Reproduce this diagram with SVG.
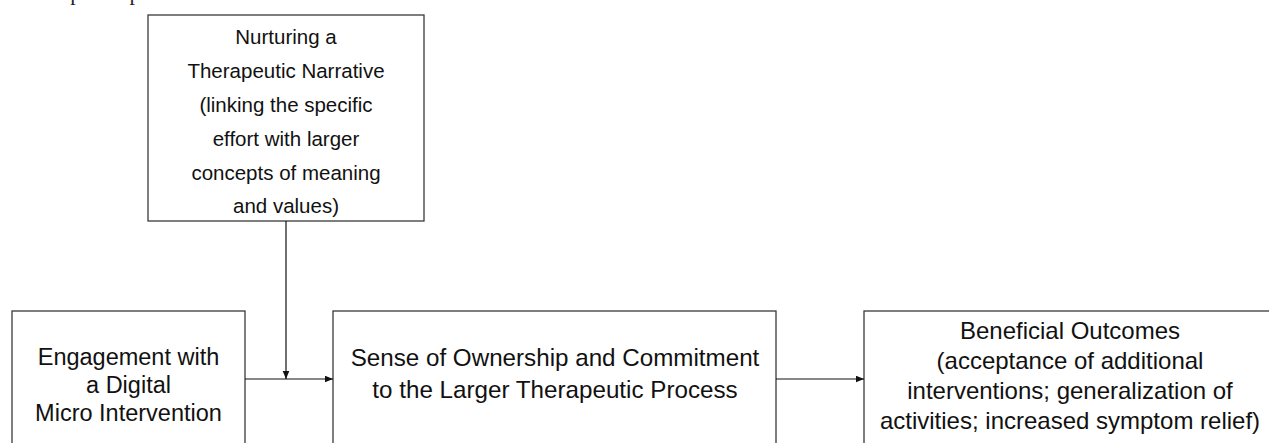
<svg xmlns="http://www.w3.org/2000/svg" width="1269" height="443" viewBox="0 0 1269 443">
<style>
.box{fill:#fff;stroke:#3a3a3a;stroke-width:1.3}
.t{font-family:"Liberation Sans",Arial,sans-serif;fill:#111;text-anchor:middle}
.cap{font-family:"Liberation Serif","Times New Roman",serif;fill:#222;font-size:22px}
.conn{stroke:#111;stroke-width:1.2;fill:none}
</style>
<defs>
<marker id="ah" markerUnits="userSpaceOnUse" markerWidth="9" markerHeight="8" refX="8.5" refY="3.5" orient="auto">
<path d="M0,0 L8.5,3.5 L0,7 z" fill="#111"/>
</marker>
</defs>
<rect width="1269" height="443" fill="#fff"/>
<text class="cap" x="-6" y="-0.5">the therapeutic process.</text>
<g id="node-narrative">
<rect class="box" x="148" y="15" width="276" height="206"/>
<text class="t" font-size="20.5" x="286" y="44">Nurturing a</text>
<text class="t" font-size="20.5" x="286" y="78">Therapeutic Narrative</text>
<text class="t" font-size="20.5" x="286" y="112">(linking the specific</text>
<text class="t" font-size="20.5" x="286" y="146">effort with larger</text>
<text class="t" font-size="20.5" x="286" y="180">concepts of meaning</text>
<text class="t" font-size="20.5" x="286" y="213">and values)</text>
</g>
<g id="node-engagement">
<rect class="box" x="12" y="311" width="233" height="150"/>
<text class="t" font-size="23.5" x="128.5" y="365">Engagement with</text>
<text class="t" font-size="23.5" x="128.5" y="393">a Digital</text>
<text class="t" font-size="23.5" x="128.5" y="421">Micro Intervention</text>
</g>
<g id="node-ownership">
<rect class="box" x="333" y="311" width="443" height="150"/>
<text class="t" font-size="24.2" x="555" y="366">Sense of Ownership and Commitment</text>
<text class="t" font-size="24.2" x="555" y="398">to the Larger Therapeutic Process</text>
</g>
<g id="node-outcomes">
<rect class="box" x="864" y="311" width="430" height="150"/>
<text class="t" font-size="24" x="1070" y="339">Beneficial Outcomes</text>
<text class="t" font-size="24" x="1070" y="369">(acceptance of additional</text>
<text class="t" font-size="24" x="1070" y="399">interventions; generalization of</text>
<text class="t" font-size="24" x="1070" y="429">activities; increased symptom relief)</text>
</g>
<g id="connectors">
<path class="conn" d="M286,221 L286,379" marker-end="url(#ah)"/>
<path class="conn" d="M245,379 L333,379" marker-end="url(#ah)"/>
<path class="conn" d="M776,379 L864,379" marker-end="url(#ah)"/>
</g>
</svg>
